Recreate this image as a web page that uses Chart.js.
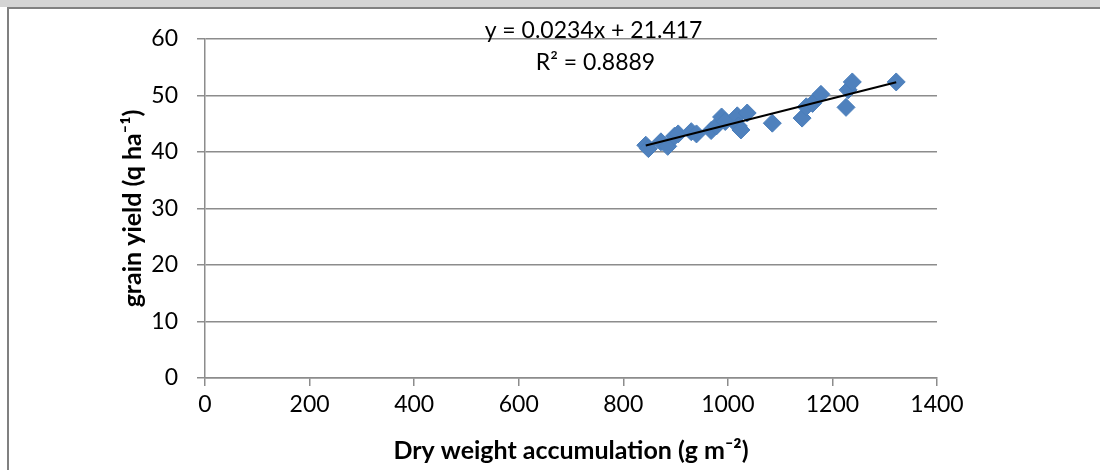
<!DOCTYPE html>
<html>
<head>
<meta charset="utf-8">
<script src="https://cdn.jsdelivr.net/npm/chart.js@4/dist/chart.umd.min.js"></script>
<style>
  body { margin: 0; background: #fff; }
  #wrap { position: relative; width: 1100px; height: 470px; overflow: hidden; }
  #strip { position: absolute; left: 0; top: 0; width: 1100px; height: 7px; background: #d4d4d4; }
  #frame { position: absolute; left: 7px; top: 7px; width: 1200px; height: 600px;
           border-left: 2px solid #808080; border-top: 2px solid #808080; pointer-events: none; }
  canvas { position: absolute; left: 0; top: 0; }
</style>
</head>
<body>
<div id="wrap">
  <canvas id="scatterChart" width="1100" height="470"></canvas>
  <div id="strip"></div>
  <div id="frame"></div>
</div>
<script>
// dados
const dryWeight = [843, 848, 872, 885, 898, 905, 930, 940, 968, 978, 988, 995, 1018,
                   1020, 1025, 1037, 1085, 1142, 1150, 1162, 1178, 1226, 1230, 1238, 1322];
const grainYield = [41.2, 40.6, 41.8, 41.0, 42.8, 43.2, 43.6, 43.2, 43.8, 44.6, 46.2, 45.4, 46.4,
                    44.6, 43.9, 46.9, 45.1, 46.0, 48.0, 48.6, 50.2, 47.9, 51.0, 52.4, 52.4];
const xTicks = [0, 200, 400, 600, 800, 1000, 1200, 1400];
const yTicks = [0, 10, 20, 30, 40, 50, 60];

// linha de tendência (Excel)
const slope = 0.0234;
const intercept = 21.417;
const eqText = 'y = 0.0234x + 21.417';
const r2Text = 'R² = 0.8889';

const xMin = Math.min(...dryWeight);
const xMax = Math.max(...dryWeight);
const trend = [xMin, xMax].map(x => ({ x: x, y: slope * x + intercept }));

const points = dryWeight.map((x, i) => ({ x: x, y: grainYield[i] }));

const gridGray = '#8c8c8c';
const font = "Lato, 'Open Sans', sans-serif";

const trendLabel = {
    id: 'trendLabel',
    afterDatasetsDraw(chart) {
        const { ctx, chartArea, scales } = chart;
        const cx = scales.x.getPixelForValue(745);
        ctx.save();
        ctx.fillStyle = '#000';
        ctx.font = '23px ' + font;
        ctx.textAlign = 'center';
        ctx.textBaseline = 'middle';
        ctx.fillText(eqText, cx - 1, chartArea.top - 8);
        ctx.fillText(r2Text, cx + 1, chartArea.top + 24);
        ctx.restore();
    }
};

const ctx = document.getElementById('scatterChart');

new Chart(ctx, {
    type: 'scatter',
    data: {
        datasets: [{
            label: 'grain yield',
            data: points,
            pointStyle: 'rectRot',
            pointRadius: 9,
            pointHoverRadius: 9,
            backgroundColor: '#4F81BD',
            borderColor: '#4A7EBB',
            borderWidth: 1,
            order: 2
        }, {
            type: 'line',
            label: 'trend',
            data: trend,
            borderColor: '#000',
            borderWidth: 2,
            pointRadius: 0,
            fill: false,
            order: 1
        }]
    },
    options: {
        responsive: false,
        animation: false,
        layout: {
            padding: { left: 0, right: 163, top: 39, bottom: 0 }
        },
        plugins: {
            legend: { display: false },
            tooltip: { enabled: false }
        },
        scales: {
            x: {
                type: 'linear',
                min: 0,
                max: 1400,
                afterBuildTicks: s => { s.ticks = xTicks.map(v => ({ value: v })); },
                afterFit: s => { s.height = 92; },
                grid: {
                    drawOnChartArea: false,
                    color: gridGray,
                    lineWidth: 1.5,
                    tickLength: 8
                },
                border: { color: gridGray, width: 1.5 },
                ticks: {
                    color: '#000',
                    padding: 5,
                    callback: v => String(v),
                    font: { family: font, size: 23 }
                },
                title: {
                    display: true,
                    text: 'Dry weight accumulation (g m⁻²)',
                    color: '#000',
                    padding: { top: 8 },
                    font: { family: font, size: 25, weight: 'bold' }
                }
            },
            y: {
                min: 0,
                max: 60,
                afterBuildTicks: s => { s.ticks = yTicks.map(v => ({ value: v })); },
                afterFit: s => { s.width = 205; },
                grid: {
                    color: gridGray,
                    lineWidth: 1.5,
                    tickLength: 8
                },
                border: { color: gridGray, width: 1.5 },
                ticks: {
                    color: '#000',
                    padding: 19,
                    callback: v => String(v),
                    font: { family: font, size: 23 }
                },
                title: {
                    display: true,
                    text: 'grain yield (q ha⁻¹)',
                    color: '#000',
                    padding: { top: 118 },
                    font: { family: font, size: 25, weight: 'bold' }
                }
            }
        }
    },
    plugins: [trendLabel]
});
</script>
</body>
</html>
